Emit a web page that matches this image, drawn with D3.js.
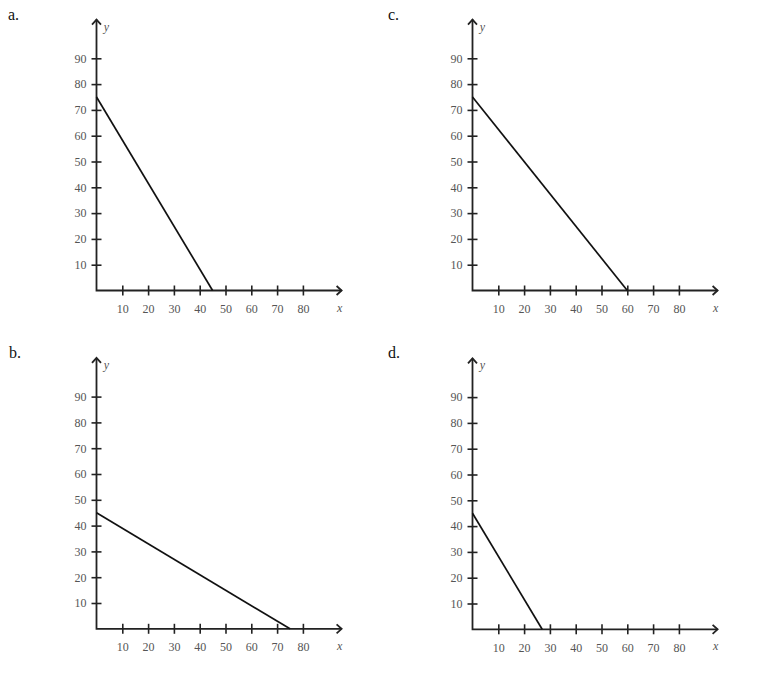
<!DOCTYPE html>
<html><head><meta charset="utf-8">
<script src="https://cdn.jsdelivr.net/npm/d3@7"></script>
<style>body{margin:0;background:#fff}svg{display:block}svg text{font-family:'Liberation Serif','DejaVu Serif',serif}</style>
</head><body>
<svg id="c" width="768" height="682"></svg>
<script>
const panelLabels = ["a.", "c.", "b.", "d."];
const yIntercepts = [75, 75, 45, 45];
const xIntercepts = [45, 60, 75, 27];
const xTicks = [10, 20, 30, 40, 50, 60, 70, 80];
const yTicks = [10, 20, 30, 40, 50, 60, 70, 80, 90];

const origins = [[96.5, 290.5], [472.5, 290.5], [96.5, 628.8], [472.5, 629.3]];
const labelPos = [[8, 20], [388, 20], [9, 358], [388, 358]];
const unit = 2.58; // px per unit

const svg = d3.select("#c");
const font = "'Liberation Serif','DejaVu Serif',serif";

panelLabels.forEach((lab, i) => {
  const [ox, oy] = origins[i];
  const x = d3.scaleLinear().domain([0, 80]).range([ox, ox + 80 * unit]);
  const y = d3.scaleLinear().domain([0, 90]).range([oy, oy - 90 * unit]);
  const g = svg.append("g");

  svg.append("text").attr("x", labelPos[i][0]).attr("y", labelPos[i][1])
    .style("font-family", font).attr("font-size", 16).attr("fill", "#111").text(lab);

  const gx = g.append("g").attr("transform", `translate(0,${oy})`)
    .call(d3.axisBottom(x).tickValues(xTicks).tickSize(5).tickPadding(9));
  gx.attr("font-family", null);
  gx.select(".domain").remove();
  gx.selectAll(".tick line").attr("y1", -5).attr("y2", 5).attr("stroke", "#222").attr("stroke-width", 1.6);
  gx.selectAll(".tick text").style("font-family", font).attr("font-size", 12).attr("fill", "#555");

  const gy = g.append("g").attr("transform", `translate(${ox},0)`)
    .call(d3.axisLeft(y).tickValues(yTicks).tickSize(5).tickPadding(5));
  gy.attr("font-family", null);
  gy.select(".domain").remove();
  gy.selectAll(".tick line").attr("x1", -5).attr("x2", 5).attr("stroke", "#222").attr("stroke-width", 1.6);
  gy.selectAll(".tick text").style("font-family", font).attr("font-size", 12).attr("fill", "#555");

  const xEnd = ox + 95 * unit;
  const yEnd = oy - 105 * unit;
  g.append("path").attr("d", `M${ox},${yEnd}V${oy}H${xEnd}`)
    .attr("fill", "none").attr("stroke", "#222").attr("stroke-width", 1.8);
  g.append("path").attr("d", `M${xEnd - 5},${oy - 4.5}L${xEnd},${oy}L${xEnd - 5},${oy + 4.5}`)
    .attr("fill", "none").attr("stroke", "#222").attr("stroke-width", 1.8);
  g.append("path").attr("d", `M${ox - 4.5},${yEnd + 5}L${ox},${yEnd}L${ox + 4.5},${yEnd + 5}`)
    .attr("fill", "none").attr("stroke", "#222").attr("stroke-width", 1.8);

  g.append("text").attr("x", xEnd - 2).attr("y", oy + 21).attr("text-anchor", "middle")
    .style("font-family", font).attr("font-style", "italic").attr("font-size", 12).attr("fill", "#555").text("x");
  g.append("text").attr("x", ox + 10).attr("y", yEnd + 11).attr("text-anchor", "middle")
    .style("font-family", font).attr("font-style", "italic").attr("font-size", 12).attr("fill", "#555").text("y");

  g.append("line")
    .attr("x1", x(0)).attr("y1", y(yIntercepts[i]))
    .attr("x2", x(xIntercepts[i])).attr("y2", y(0))
    .attr("stroke", "#111").attr("stroke-width", 1.7);
});
</script>
</body></html>
